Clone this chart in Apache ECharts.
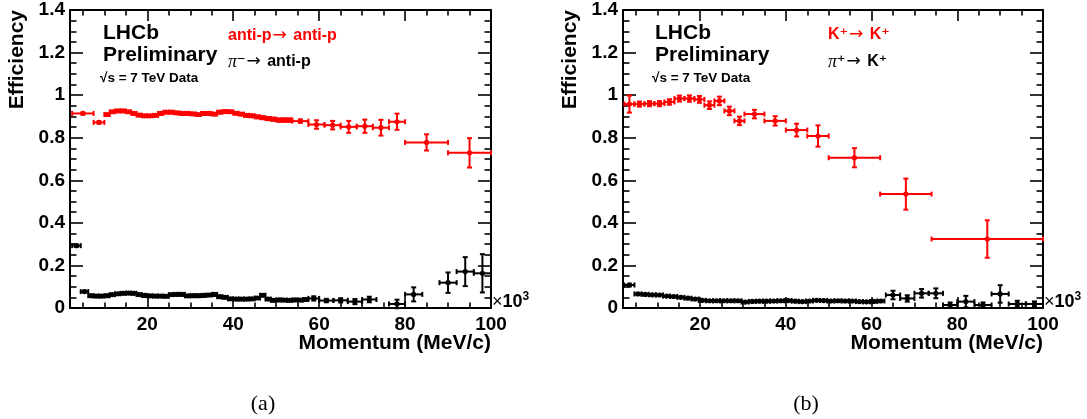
<!DOCTYPE html>
<html>
<head>
<meta charset="utf-8">
<script src="https://cdn.jsdelivr.net/npm/echarts@6/dist/echarts.min.js"></script>
<style>
html,body{margin:0;padding:0;background:#fff;}
#chart{width:1087px;height:419px;}
</style>
</head>
<body>
<div id="chart"></div>
<script>
// ---------------- DATA ----------------
// Panel (a): anti-p -> anti-p (red), pi- -> anti-p (black)
var aRedX  = [5, 8.75, 10.625, 11.875, 13.125, 14.375, 15.625, 16.875, 18.125, 19.375, 20.625, 21.875, 23.125, 24.375, 25.625, 26.875, 28.125, 29.375, 30.625, 31.875, 33.125, 34.375, 35.625, 36.875, 38.125, 39.375, 40.625, 41.875, 43.125, 44.375, 45.625, 46.875, 48.125, 49.375, 50.625, 51.875, 53.125, 55.625, 59.375, 63.125, 66.875, 70.625, 74.375, 78.125, 85, 95];
var aRedXw = [2.5, 1.25, 0.625, 0.625, 0.625, 0.625, 0.625, 0.625, 0.625, 0.625, 0.625, 0.625, 0.625, 0.625, 0.625, 0.625, 0.625, 0.625, 0.625, 0.625, 0.625, 0.625, 0.625, 0.625, 0.625, 0.625, 0.625, 0.625, 0.625, 0.625, 0.625, 0.625, 0.625, 0.625, 0.625, 0.625, 0.625, 1.875, 1.875, 1.875, 1.875, 1.875, 1.875, 1.875, 5, 5];
var aRedY  = [0.914, 0.872, 0.909, 0.922, 0.926, 0.926, 0.922, 0.914, 0.906, 0.903, 0.903, 0.905, 0.914, 0.920, 0.920, 0.917, 0.914, 0.914, 0.912, 0.909, 0.914, 0.914, 0.911, 0.920, 0.923, 0.922, 0.915, 0.911, 0.905, 0.903, 0.898, 0.894, 0.890, 0.887, 0.883, 0.883, 0.883, 0.878, 0.862, 0.859, 0.851, 0.854, 0.847, 0.875, 0.778, 0.729];
var aRedYe = [0.004, 0.005, 0.004, 0.004, 0.004, 0.004, 0.004, 0.004, 0.004, 0.004, 0.004, 0.004, 0.004, 0.004, 0.004, 0.004, 0.004, 0.004, 0.004, 0.004, 0.005, 0.005, 0.005, 0.005, 0.005, 0.005, 0.005, 0.005, 0.006, 0.006, 0.006, 0.006, 0.007, 0.007, 0.007, 0.008, 0.008, 0.008, 0.02, 0.02, 0.028, 0.031, 0.037, 0.038, 0.038, 0.069];

var aBlkX  = [3.5, 5.375, 6.875, 8.125, 9.375, 10.625, 11.875, 13.125, 14.375, 15.625, 16.875, 18.125, 19.375, 20.625, 21.875, 23.125, 24.375, 25.625, 26.875, 28.125, 29.375, 30.625, 31.875, 33.125, 34.375, 35.625, 36.875, 38.125, 39.375, 40.625, 41.875, 43.125, 44.375, 45.625, 46.875, 48.125, 49.375, 50.625, 51.875, 53.125, 54.375, 55.625, 56.875, 58.75, 61.67, 65, 68.33, 71.67, 78.125, 82, 90, 94, 98];
var aBlkXw = [1, 0.875, 0.625, 0.625, 0.625, 0.625, 0.625, 0.625, 0.625, 0.625, 0.625, 0.625, 0.625, 0.625, 0.625, 0.625, 0.625, 0.625, 0.625, 0.625, 0.625, 0.625, 0.625, 0.625, 0.625, 0.625, 0.625, 0.625, 0.625, 0.625, 0.625, 0.625, 0.625, 0.625, 0.625, 0.625, 0.625, 0.625, 0.625, 0.625, 0.625, 0.625, 0.625, 1.25, 1.67, 1.67, 1.67, 1.67, 1.875, 2, 2, 2, 2];
var aBlkY  = [0.293, 0.077, 0.058, 0.056, 0.056, 0.058, 0.063, 0.067, 0.069, 0.070, 0.069, 0.063, 0.059, 0.057, 0.056, 0.056, 0.055, 0.063, 0.064, 0.064, 0.057, 0.058, 0.058, 0.059, 0.061, 0.064, 0.053, 0.050, 0.043, 0.042, 0.042, 0.042, 0.043, 0.047, 0.060, 0.042, 0.036, 0.038, 0.037, 0.036, 0.038, 0.037, 0.040, 0.045, 0.035, 0.036, 0.030, 0.040, 0.019, 0.064, 0.119, 0.171, 0.163];
var aBlkYe = [0.005, 0.004, 0.003, 0.003, 0.003, 0.003, 0.003, 0.003, 0.003, 0.003, 0.003, 0.003, 0.003, 0.003, 0.003, 0.003, 0.003, 0.003, 0.003, 0.003, 0.003, 0.003, 0.003, 0.003, 0.003, 0.003, 0.003, 0.003, 0.003, 0.003, 0.003, 0.003, 0.004, 0.004, 0.005, 0.004, 0.004, 0.004, 0.004, 0.004, 0.004, 0.004, 0.005, 0.01, 0.008, 0.01, 0.012, 0.013, 0.02, 0.033, 0.048, 0.068, 0.09];

// Panel (b): K+ -> K+ (red), pi+ -> K+ (black)
var bRedX  = [3.5, 5.83, 8.17, 10.5, 12.83, 15.17, 17.5, 19.83, 22.17, 24.5, 26.83, 29.17, 32.67, 37.5, 42.5, 47.5, 56, 68, 87];
var bRedXw = [1.17, 1.17, 1.17, 1.17, 1.17, 1.17, 1.17, 1.17, 1.17, 1.17, 1.17, 1.17, 2.33, 2.5, 2.5, 2.5, 6, 6, 13];
var bRedY  = [0.958, 0.958, 0.960, 0.960, 0.968, 0.984, 0.984, 0.980, 0.953, 0.973, 0.926, 0.879, 0.911, 0.879, 0.836, 0.808, 0.706, 0.535, 0.324];
var bRedYe = [0.04, 0.012, 0.012, 0.012, 0.013, 0.014, 0.015, 0.016, 0.018, 0.02, 0.02, 0.02, 0.02, 0.022, 0.03, 0.05, 0.045, 0.073, 0.088];

var bBlkX  = [3.5, 5.5, 7.17, 8.83, 10.5, 12.17, 13.83, 15.5, 17.17, 18.83, 20.5, 22.17, 23.83, 25.5, 27.17, 28.83, 30.5, 32.17, 33.83, 35.5, 37.17, 38.83, 40.5, 42.17, 43.83, 45.5, 47.17, 48.83, 50.5, 52.17, 53.83, 55.5, 57.17, 58.83, 60.5, 62.17, 65, 68.33, 71.67, 75, 78.33, 82, 86, 90, 94, 98];
var bBlkXw = [1.17, 0.833, 0.833, 0.833, 0.833, 0.833, 0.833, 0.833, 0.833, 0.833, 0.833, 0.833, 0.833, 0.833, 0.833, 0.833, 0.833, 0.833, 0.833, 0.833, 0.833, 0.833, 0.833, 0.833, 0.833, 0.833, 0.833, 0.833, 0.833, 0.833, 0.833, 0.833, 0.833, 0.833, 0.833, 0.833, 1.67, 1.67, 1.67, 1.67, 1.67, 2, 2, 2, 2, 2];
var bBlkY  = [0.108, 0.066, 0.064, 0.062, 0.061, 0.056, 0.054, 0.050, 0.046, 0.042, 0.036, 0.034, 0.034, 0.034, 0.034, 0.034, 0.028, 0.031, 0.032, 0.032, 0.033, 0.034, 0.035, 0.032, 0.030, 0.033, 0.036, 0.035, 0.033, 0.034, 0.033, 0.033, 0.030, 0.029, 0.031, 0.033, 0.061, 0.045, 0.069, 0.069, 0.014, 0.030, 0.014, 0.066, 0.019, 0.019];
var bBlkYe = [0.006, 0.003, 0.003, 0.003, 0.003, 0.003, 0.003, 0.003, 0.003, 0.003, 0.003, 0.003, 0.003, 0.003, 0.003, 0.003, 0.003, 0.003, 0.003, 0.003, 0.003, 0.003, 0.003, 0.003, 0.003, 0.003, 0.003, 0.003, 0.003, 0.003, 0.003, 0.003, 0.003, 0.003, 0.004, 0.004, 0.02, 0.015, 0.02, 0.023, 0.012, 0.027, 0.012, 0.041, 0.015, 0.012];

// Axis ticks / labels
var xMajorTicks = [20, 40, 60, 80, 100];
var xMinorTicks = [5, 10, 15, 25, 30, 35, 45, 50, 55, 65, 70, 75, 85, 90, 95];
var yMin = 0, yMax = 1.4, yStep = 0.2;
var xMin = 2, xMax = 100;

// ---------------- CHART ----------------
var FONT = "'Liberation Sans', Arial, Helvetica, sans-serif";
var SERIF = "'Liberation Serif', 'Times New Roman', serif";
var SYM = "'DejaVu Sans', sans-serif";

function rows(x, xw, y, ye) {
  var out = [];
  for (var i = 0; i < x.length; i++) out.push([x[i], xw[i], y[i], ye[i]]);
  return out;
}

function errRender(params, api) {
  var x = api.value(0), xw = api.value(1), y = api.value(2), ye = api.value(3);
  var c = api.coord([x, y]);
  var l = api.coord([x - xw, y]), r = api.coord([x + xw, y]);
  var t = api.coord([x, y + ye]), b = api.coord([x, y - ye]);
  var color = api.visual('color');
  var cap = 2.5;
  var st = { stroke: color, lineWidth: 2 };
  function ln(x1, y1, x2, y2) {
    return { type: 'line', shape: { x1: x1, y1: y1, x2: x2, y2: y2 }, style: st, silent: true };
  }
  return {
    type: 'group',
    children: [
      ln(l[0], l[1], r[0], r[1]),
      ln(t[0], t[1], b[0], b[1]),
      ln(l[0], l[1] - cap, l[0], l[1] + cap),
      ln(r[0], r[1] - cap, r[0], r[1] + cap),
      ln(t[0] - cap, t[1], t[0] + cap, t[1]),
      ln(b[0] - cap, b[1], b[0] + cap, b[1]),
      { type: 'circle', shape: { cx: c[0], cy: c[1], r: 2.6 }, style: { fill: color }, silent: true }
    ]
  };
}

function xAxes(gi) {
  var base = { gridIndex: gi, type: 'value', min: xMin, max: xMax, splitLine: { show: false } };
  var line = { show: true, lineStyle: { color: '#000', width: 2 } };
  return [
    Object.assign({}, base, { position: 'bottom', axisLine: line,
      axisTick: { show: true, inside: true, length: 11, customValues: xMajorTicks, lineStyle: { color: '#000', width: 1.6 } },
      axisLabel: { show: true, customValues: xMajorTicks, color: '#000', fontSize: 19, fontWeight: 'bold', fontFamily: FONT, margin: 7 } }),
    Object.assign({}, base, { position: 'bottom', axisLine: { show: false },
      axisTick: { show: true, inside: true, length: 5.5, customValues: xMinorTicks, lineStyle: { color: '#000', width: 1.6 } },
      axisLabel: { show: false } }),
    Object.assign({}, base, { position: 'top', axisLine: line,
      axisTick: { show: true, inside: true, length: 11, customValues: xMajorTicks, lineStyle: { color: '#000', width: 1.6 } },
      axisLabel: { show: false } }),
    Object.assign({}, base, { position: 'top', axisLine: { show: false },
      axisTick: { show: true, inside: true, length: 5.5, customValues: xMinorTicks, lineStyle: { color: '#000', width: 1.6 } },
      axisLabel: { show: false } })
  ];
}

function yAxes(gi) {
  var base = { gridIndex: gi, type: 'value', min: yMin, max: yMax, interval: yStep, splitLine: { show: false },
    axisLine: { show: true, lineStyle: { color: '#000', width: 2 } },
    axisTick: { show: true, inside: true, length: 13, lineStyle: { color: '#000', width: 1.6 } },
    minorTick: { show: true, splitNumber: 4, length: 6.5, lineStyle: { color: '#000', width: 1.6 } } };
  return [
    Object.assign({}, base, { position: 'left',
      axisLabel: { show: true, color: '#000', fontSize: 19, fontWeight: 'bold', fontFamily: FONT, margin: 5 } }),
    Object.assign({}, base, { position: 'right', axisLabel: { show: false } })
  ];
}

function t(x, y, text, opt) {
  opt = opt || {};
  var size = opt.size || 16, weight = opt.weight || 'bold', fam = opt.family || FONT;
  var align = opt.align || 'left', valign = opt.valign || 'middle';
  var st = {
    text: text, x: 0, y: 0, fill: opt.color || '#000',
    fontSize: size, fontWeight: weight, fontFamily: fam,
    font: weight + ' ' + size + 'px ' + fam,
    align: align, textAlign: align, verticalAlign: valign, textVerticalAlign: valign
  };
  if (opt.rich) st.rich = opt.rich;
  return { type: 'text', x: x, y: y, rotation: opt.rotation || 0, silent: true, style: st };
}

function legRich(color) {
  return {
    w: { fontSize: 16, fontWeight: 'bold', fontFamily: FONT, fill: color },
    p: { fontSize: 18, fontWeight: 'normal', fontStyle: 'italic', fontFamily: SERIF, fill: color },
    u: { fontSize: 16, fontWeight: 'bold', fontFamily: SYM, fill: color },
    a: { fontSize: 17, fontWeight: 'normal', fontFamily: SYM, fill: color, padding: [0, 2, 0, 1] }
  };
}
var texRich = {
  n: { fontSize: 18, fontWeight: 'bold', fontFamily: FONT, fill: '#000' },
  x: { fontSize: 18, fontWeight: 'normal', fontFamily: FONT, fill: '#000' },
  s: { fontSize: 12, fontWeight: 'bold', fontFamily: FONT, fill: '#000', padding: [0, 0, 10, 0] }
};

var graphics = [
  // panel a
  t(17, 10, 'Efficiency', { size: 21, rotation: Math.PI / 2, align: 'right' }),
  t(491, 343, 'Momentum (MeV/c)', { size: 21, align: 'right' }),
  t(492, 302, '{x|×}{n|10}{s|3}', { size: 18, rich: texRich }),
  t(103, 33, 'LHCb', { size: 21 }),
  t(103, 55, 'Preliminary', { size: 21 }),
  t(100, 78, '√s = 7 TeV Data', { size: 13.5 }),
  t(228, 36, '{w|anti-p}{a|→}{w| anti-p}', { size: 16, color: '#ff0000', rich: legRich('#ff0000') }),
  t(228, 62, '{p|π}{u|⁻}{a|→}{w| anti-p}', { size: 16, rich: legRich('#000') }),
  t(263, 404, '(a)', { size: 22, weight: 'normal', family: SERIF, align: 'center' }),
  // panel b
  t(570, 10, 'Efficiency', { size: 21, rotation: Math.PI / 2, align: 'right' }),
  t(1043, 343, 'Momentum (MeV/c)', { size: 21, align: 'right' }),
  t(1044, 302, '{x|×}{n|10}{s|3}', { size: 18, rich: texRich }),
  t(655, 33, 'LHCb', { size: 21 }),
  t(655, 55, 'Preliminary', { size: 21 }),
  t(652, 78, '√s = 7 TeV Data', { size: 13.5 }),
  t(828, 35, '{w|K}{u|⁺}{a|→}{w| K}{u|⁺}', { size: 16, color: '#ff0000', rich: legRich('#ff0000') }),
  t(828, 62, '{p|π}{u|⁺}{a|→}{w| K}{u|⁺}', { size: 16, rich: legRich('#000') }),
  t(806, 404, '(b)', { size: 22, weight: 'normal', family: SERIF, align: 'center' })
];

function errSeries(name, xi, yi, data, color, z) {
  return {
    name: name, type: 'custom', xAxisIndex: xi, yAxisIndex: yi, z: z,
    itemStyle: { color: color },
    dimensions: ['x', 'xw', 'y', 'ye'],
    encode: { x: 0, y: 2 },
    renderItem: errRender,
    data: data,
    clip: false,
    animation: false
  };
}

var chart = echarts.init(document.getElementById('chart'), null, { renderer: 'canvas' });
chart.setOption({
  animation: false,
  backgroundColor: '#fff',
  grid: [
    { left: 70, top: 10, width: 421, height: 298, containLabel: false, outerBoundsMode: 'none' },
    { left: 623, top: 10, width: 420, height: 298, containLabel: false, outerBoundsMode: 'none' }
  ],
  xAxis: xAxes(0).concat(xAxes(1)),
  yAxis: yAxes(0).concat(yAxes(1)),
  graphic: graphics,
  series: [
    errSeries('π⁻→ anti-p', 0, 0, rows(aBlkX, aBlkXw, aBlkY, aBlkYe), '#000000', 2),
    errSeries('anti-p→ anti-p', 0, 0, rows(aRedX, aRedXw, aRedY, aRedYe), '#ff0000', 3),
    errSeries('π⁺→ K⁺', 4, 2, rows(bBlkX, bBlkXw, bBlkY, bBlkYe), '#000000', 2),
    errSeries('K⁺→ K⁺', 4, 2, rows(bRedX, bRedXw, bRedY, bRedYe), '#ff0000', 3)
  ]
});
</script>
</body>
</html>
